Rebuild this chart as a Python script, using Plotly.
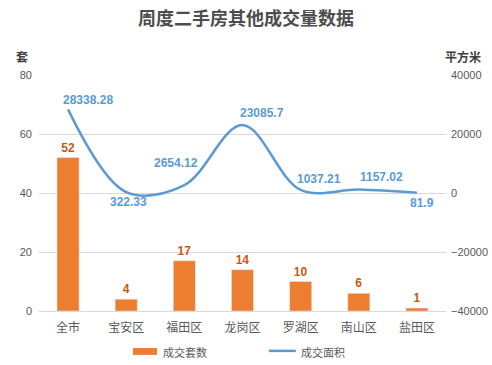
import plotly.graph_objects as go

categories = ["全市", "宝安区", "福田区", "龙岗区", "罗湖区", "南山区", "盐田区"]
counts = [52, 4, 17, 14, 10, 6, 1]
areas = [28338.28, 322.33, 2654.12, 23085.7, 1037.21, 1157.02, 81.9]
area_labels = ["28338.28", "322.33", "2654.12", "23085.7", "1037.21", "1157.02", "81.9"]
series_names = ["成交套数", "成交面积"]

# label offsets (styling only, pixels)
label_dx = [20, 2, -8, 19, 18, 23, 5]
label_dy = [9, -10, 22, 12, 11, 13, -10]

font_cjk = "Noto Sans CJK SC, Microsoft YaHei, sans-serif"
font_num = "Liberation Sans, Arial, sans-serif"
bar_color = "#ed7d31"
line_color = "#5b9bd5"

fig = go.Figure()
fig.add_trace(go.Bar(
    x=categories, y=counts, name=series_names[0],
    marker=dict(color=bar_color), width=0.38,
    text=["<b>%d</b>" % v for v in counts], textposition="outside",
    textfont=dict(color="#c55a11", size=12, family=font_num),
    cliponaxis=False, showlegend=False,
))
fig.add_trace(go.Scatter(
    x=categories, y=areas, name=series_names[1], yaxis="y2",
    mode="lines", line=dict(color=line_color, width=2.5, shape="spline", smoothing=1.0),
    cliponaxis=False, showlegend=False,
))

annotations = []
for c, a, s, dx, dy in zip(categories, areas, area_labels, label_dx, label_dy):
    annotations.append(dict(
        x=c, y=a, xref="x", yref="y2", text="<b>%s</b>" % s, showarrow=False,
        xanchor="center", yanchor="middle", xshift=dx, yshift=dy,
        font=dict(color=line_color, size=12, family=font_num)))

annotations += [
    dict(text="<b>套</b>", xref="paper", yref="paper", x=-0.042, y=1.08, showarrow=False,
         xanchor="center", yanchor="middle", font=dict(size=12, color="#404040")),
    dict(text="<b>平方米</b>", xref="paper", yref="paper", x=1.042, y=1.08, showarrow=False,
         xanchor="center", yanchor="middle", font=dict(size=12, color="#404040")),
    dict(text=series_names[0], xref="paper", yref="paper", x=0.30, y=-0.174, showarrow=False,
         xanchor="left", yanchor="middle", font=dict(size=11, color="#595959")),
    dict(text=series_names[1], xref="paper", yref="paper", x=0.639, y=-0.174, showarrow=False,
         xanchor="left", yanchor="middle", font=dict(size=11, color="#595959")),
]

shapes = [
    dict(type="rect", xref="paper", yref="paper", x0=0.231, x1=0.290, y0=-0.186, y1=-0.157,
         fillcolor=bar_color, line=dict(width=0)),
    dict(type="line", xref="paper", yref="paper", x0=0.565, x1=0.631, y0=-0.169, y1=-0.169,
         line=dict(color=line_color, width=2.5)),
]

fig.update_layout(
    width=492, height=365,
    margin=dict(l=39, r=46, t=75, b=54, autoexpand=False),
    paper_bgcolor="white", plot_bgcolor="white",
    font=dict(family=font_cjk, color="#595959", size=11),
    title=dict(text="<b>周度二手房其他成交量数据</b>", x=0.5, xanchor="center", y=0.95, yanchor="middle",
               font=dict(size=18, color="#4d4d4d", family=font_cjk)),
    xaxis=dict(showgrid=False, showline=True, linecolor="#d9d9d9", ticks="", automargin=False,
               ticklabelstandoff=6, tickfont=dict(size=12, color="#595959")),
    yaxis=dict(range=[0, 80], dtick=20, showgrid=True, gridcolor="#d9d9d9", zeroline=False,
               automargin=False, ticklabelstandoff=6,
               tickfont=dict(size=11, color="#595959", family=font_num)),
    yaxis2=dict(range=[-40000, 40000], dtick=20000, overlaying="y", side="right", showgrid=False,
                zeroline=False, automargin=False, tickformat="d", ticklabelstandoff=4,
                tickfont=dict(size=11, color="#595959", family=font_num)),
    showlegend=False,
    bargap=0.6,
    shapes=shapes,
    annotations=annotations,
)

fig.write_html("out.html", config={"displayModeBar": False},
               post_script="document.body.style.margin='0';document.body.style.overflow='hidden';")
